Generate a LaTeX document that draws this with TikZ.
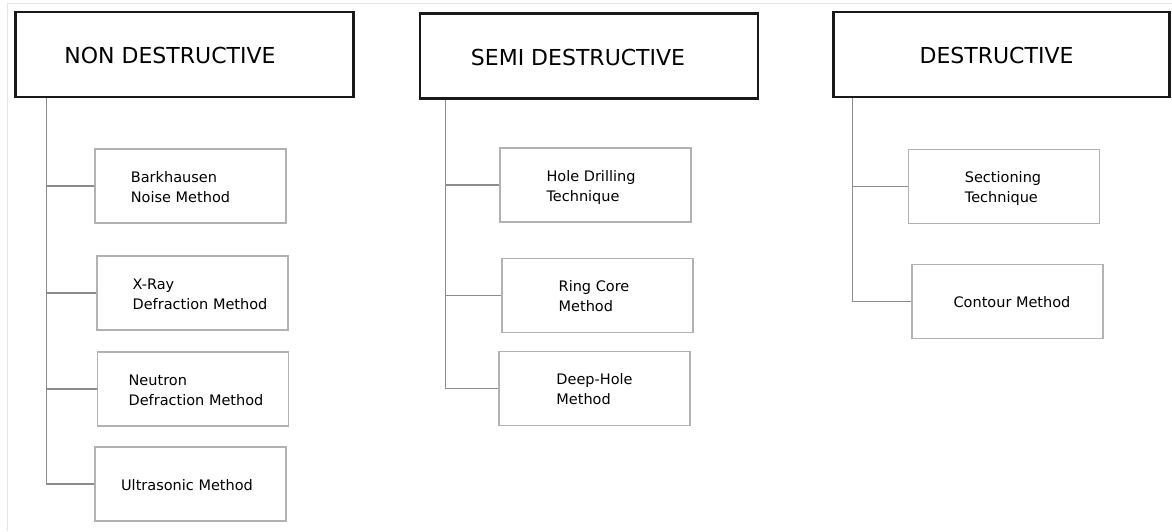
\documentclass[tikz,border=0pt]{standalone}
\usepackage{fontspec}
\setmainfont{DejaVu Sans}
\newcommand\boxtext[3]{\kern#1pt\raisebox{-\dropamt}[\height][\depth]{\begin{tabular}{@{}l@{}}#3\end{tabular}}\kern#2pt}
\newcommand\dropamt{2pt}
\begin{document}
\begin{tikzpicture}[x=1pt,y=-1pt,
  head/.style={draw=black!90, line width=2.6pt, minimum width=338pt, minimum height=85pt, inner sep=0pt, font=\fontsize{22}{26}\selectfont\renewcommand\dropamt{4pt}},
  leaf/.style={draw=gray!60, line width=1.3pt, minimum width=191pt, minimum height=74pt, inner sep=0pt, font=\fontsize{14.5}{20}\selectfont},
  conn/.style={draw=gray!90, line width=1.1pt},
  frame/.style={draw=gray!20, line width=0.8pt}]
\useasboundingbox (0,0) rectangle (1172,531);
\draw[frame] (7,531) -- (7,3) -- (1172,3);

% headers
\node[head] (h1) at (184.5,54.5) {\boxtext{0}{29}{NON DESTRUCTIVE}};
\node[head] (h2) at (589,56) {\boxtext{0}{22}{SEMI DESTRUCTIVE}};
\node[head, minimum width=336pt] (h3) at (1001.5,54.5) {\boxtext{0}{10}{DESTRUCTIVE}};

% non destructive
\node[leaf] (b1) at (190.5,186) {\boxtext{0}{20}{Barkhausen\\Noise Method}};
\node[leaf] (b2) at (192.5,293) {\boxtext{15}{0}{X-Ray\\Defraction Method}};
\node[leaf] (b3) at (193,389) {\boxtext{6}{0}{Neutron\\Defraction Method}};
\node[leaf] (b4) at (190.5,484) {\boxtext{0}{7}{Ultrasonic Method}};

% semi destructive
\node[leaf] (s1) at (595.5,185) {\boxtext{0}{9}{Hole Drilling\\Technique}};
\node[leaf] (s2) at (597.5,295.5) {\boxtext{0}{7}{Ring Core\\Method}};
\node[leaf] (s3) at (594.5,388.5) {\boxtext{0}{0}{Deep-Hole\\Method}};

% destructive
\node[leaf] (d1) at (1004,186.5) {\boxtext{0}{2}{Sectioning\\Technique}};
\node[leaf] (d2) at (1007.5,301.5) {\boxtext{9}{0}{Contour Method}};

% trunks
\coordinate (t1) at ([xshift=32pt]h1.south west);
\coordinate (t2) at ([xshift=27pt]h2.south west);
\coordinate (t3) at ([xshift=20pt]h3.south west);

\draw[conn] (t1) |- (b4.west);
\draw[conn] (b1.west) -- (b1.west -| t1);
\draw[conn] (b2.west) -- (b2.west -| t1);
\draw[conn] (b3.west) -- (b3.west -| t1);

\draw[conn] (t2) |- (s3.west);
\draw[conn] (s1.west) -- (s1.west -| t2);
\draw[conn] (s2.west) -- (s2.west -| t2);

\draw[conn] (t3) |- (d2.west);
\draw[conn] (d1.west) -- (d1.west -| t3);
\end{tikzpicture}
\end{document}
